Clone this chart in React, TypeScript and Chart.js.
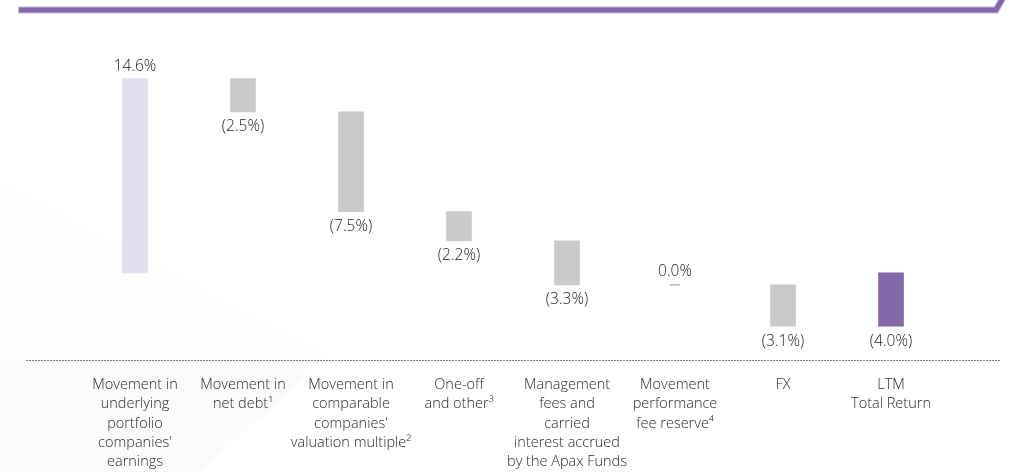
import React, { useEffect, useRef } from "react";
import { Chart, registerables } from "chart.js";

Chart.register(...registerables);

const categories: string[][] = [
  ["Movement in", "underlying", "portfolio", "companies'", "earnings"],
  ["Movement in", "net debt¹"],
  ["Movement in", "comparable", "companies'", "valuation multiple²"],
  ["One-off", "and other³"],
  ["Management", "fees and", "carried", "interest accrued", "by the Apax Funds"],
  ["Movement", "performance", "fee reserve⁴"],
  ["FX"],
  ["LTM", "Total Return"],
];

const deltas: number[] = [14.6, -2.5, -7.5, -2.2, -3.3, 0.0, -3.1, -4.0];
const isTotal: boolean[] = [false, false, false, false, false, false, false, true];
const valueLabels: string[] = ["14.6%", "(2.5%)", "(7.5%)", "(2.2%)", "(3.3%)", "0.0%", "(3.1%)", "(4.0%)"];
const barColors: string[] = ["#e2dff0", "#c8c9cb", "#c8c9cb", "#c8c9cb", "#c8c9cb", "rgba(0,0,0,0)", "#c8c9cb", "#8467a8"];

// waterfall ranges built from the deltas
const ranges: [number, number][] = (() => {
  let run = 0;
  return deltas.map((d, i) => {
    if (isTotal[i]) return [0, d] as [number, number];
    const r: [number, number] = [run, run + d];
    run += d;
    return r;
  });
})();

const FONT = "'Open Sans', 'DejaVu Sans', sans-serif";

const decorPlugin = {
  id: "decor",
  beforeDraw(chart: any) {
    const { ctx, width, height } = chart;
    ctx.save();
    ctx.fillStyle = "#ffffff";
    ctx.fillRect(0, 0, width, height);
    // faint background shapes
    ctx.fillStyle = "rgba(0,0,0,0.008)";
    ctx.beginPath();
    ctx.moveTo(0, 180);
    ctx.lineTo(330, 355);
    ctx.lineTo(0, 355);
    ctx.closePath();
    ctx.fill();
    ctx.fillStyle = "rgba(0,0,0,0.014)";
    ctx.beginPath();
    ctx.moveTo(0, 355);
    ctx.lineTo(330, 355);
    ctx.lineTo(200, 472);
    ctx.lineTo(0, 472);
    ctx.closePath();
    ctx.fill();
    // top stripe
    ctx.strokeStyle = "#c6b8da";
    ctx.lineWidth = 7;
    ctx.lineJoin = "miter";
    ctx.beginPath();
    ctx.moveTo(18, 10);
    ctx.lineTo(996, 10);
    ctx.lineTo(1004, -4);
    ctx.stroke();
    ctx.strokeStyle = "#8467a8";
    ctx.lineWidth = 5;
    ctx.beginPath();
    ctx.moveTo(19, 10);
    ctx.lineTo(996, 10);
    ctx.lineTo(1004, -4);
    ctx.stroke();
    // dotted baseline
    ctx.strokeStyle = "#7a7a7a";
    ctx.lineWidth = 1;
    ctx.setLineDash([2, 1]);
    ctx.beginPath();
    ctx.moveTo(26, 360.5);
    ctx.lineTo(1000, 360.5);
    ctx.stroke();
    ctx.restore();
  },
  afterDatasetsDraw(chart: any) {
    const { ctx } = chart;
    const xs = chart.scales.x;
    const ys = chart.scales.y;
    ctx.save();
    ctx.textAlign = "center";
    ctx.textBaseline = "middle";
    ctx.fillStyle = "#222222";
    ctx.font = `300 15.5px ${FONT}`;
    ranges.forEach((r, i) => {
      const x = xs.getPixelForValue(i);
      const top = ys.getPixelForValue(Math.max(r[0], r[1]));
      const bot = ys.getPixelForValue(Math.min(r[0], r[1]));
      if (deltas[i] > 0) {
        ctx.fillText(valueLabels[i], x, top - 12);
      } else if (deltas[i] < 0) {
        ctx.fillText(valueLabels[i], x, bot + 15);
      } else {
        ctx.fillText(valueLabels[i], x, top - 13);
        ctx.strokeStyle = "#b5b5b5";
        ctx.lineWidth = 1.5;
        ctx.beginPath();
        ctx.moveTo(x - 5, top);
        ctx.lineTo(x + 5, top);
        ctx.stroke();
      }
    });
    // category labels
    ctx.fillStyle = "#2a2a2a";
    ctx.font = `300 14.5px ${FONT}`;
    categories.forEach((lines, i) => {
      const x = xs.getPixelForValue(i);
      lines.forEach((ln, j) => {
        ctx.fillText(ln, x, 385 + j * 19.3);
      });
    });
    ctx.restore();
  },
};

export default function App() {
  const ref = useRef<HTMLCanvasElement | null>(null);
  useEffect(() => {
    if (!ref.current) return;
    const chart = new Chart(ref.current, {
      type: "bar",
      data: {
        labels: categories.map((c) => c.join(" ")),
        datasets: [
          {
            data: ranges as any,
            backgroundColor: barColors,
            borderWidth: 0,
            barThickness: 25,
            borderSkipped: false,
          },
        ],
      },
      options: {
        responsive: false,
        animation: false,
        events: [],
        layout: { padding: { left: 81, right: 64, top: 60, bottom: 106 } },
        plugins: { legend: { display: false }, tooltip: { enabled: false } },
        scales: {
          x: { display: false, offset: true, grid: { display: false } },
          y: { display: false, min: -7, max: 16 },
        },
      },
      plugins: [decorPlugin],
    });
    return () => chart.destroy();
  }, []);
  return (
    <div style={{ position: "absolute", left: 0, top: 0, width: 1009, height: 472 }}>
      <canvas ref={ref} width={1009} height={472} style={{ width: 1009, height: 472, display: "block" }} />
    </div>
  );
}
